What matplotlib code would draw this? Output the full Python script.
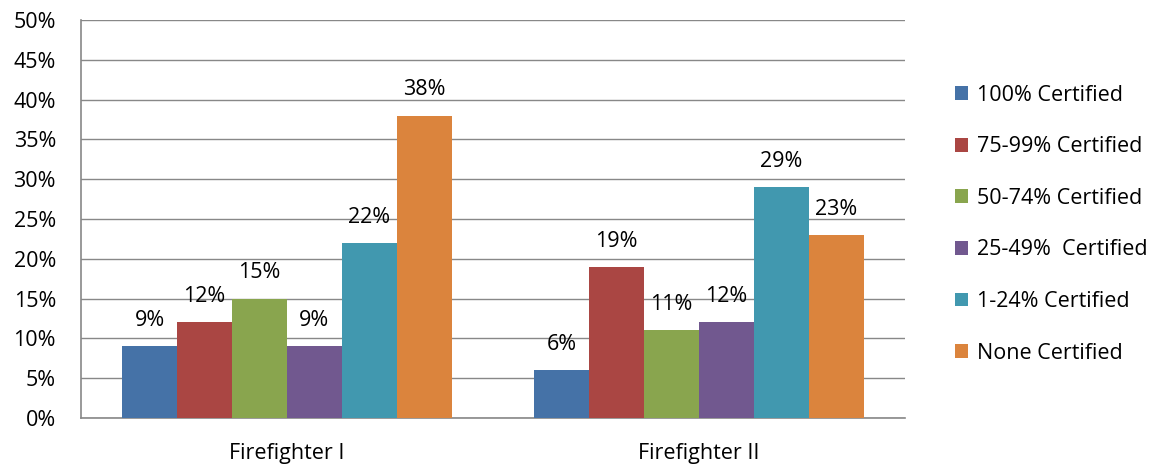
import numpy as np
import matplotlib.pyplot as plt

categories = ['Firefighter I', 'Firefighter II']
series = ['100% Certified', '75-99% Certified', '50-74% Certified',
          '25-49%  Certified', '1-24% Certified', 'None Certified']
values = [
    [9, 6],
    [12, 19],
    [15, 11],
    [9, 12],
    [22, 29],
    [38, 23],
]
colors = ['#4572A7', '#AA4643', '#89A54E', '#71588F', '#4198AF', '#DB843D']

plt.rcParams['font.family'] = ['Open Sans', 'DejaVu Sans']
fs = 15.5

fig = plt.figure(figsize=(11.68, 4.66), dpi=100)
ax = fig.add_axes([81 / 1168, 48 / 466, 824 / 1168, 398 / 466])

x = np.arange(len(categories))
w = 0.8 / len(series)
for i, (name, vals) in enumerate(zip(series, values)):
    pos = x - 0.4 + w * (i + 0.5)
    ax.bar(pos, vals, width=w, color=colors[i], label=name, zorder=3)
    for p, v in zip(pos, vals):
        ax.text(p, v + 1.9, f'{v}%', ha='center', va='bottom', fontsize=fs)

ax.set_xlim(-0.5, 1.5)
ax.set_ylim(0, 50)
ax.set_yticks(np.arange(0, 51, 5))
ax.set_yticklabels([f'{t}%' for t in range(0, 51, 5)], fontsize=fs)
ax.set_xticks(x)
ax.set_xticklabels(categories, fontsize=fs)
ax.tick_params(axis='x', length=0, pad=18)
ax.tick_params(axis='y', length=0, pad=18)
ax.grid(axis='y', color='#888888', linewidth=1, zorder=0)
for s in ['top', 'right']:
    ax.spines[s].set_visible(False)
for s in ['left', 'bottom']:
    ax.spines[s].set_color('#888888')
    ax.spines[s].set_linewidth(1.2)

ax.legend(loc='center left', bbox_to_anchor=(1.037, 0.487), frameon=False,
          fontsize=fs, handlelength=0.6, handleheight=0.6,
          handletextpad=0.45, labelspacing=1.42)

plt.savefig('out.png', dpi=100)
